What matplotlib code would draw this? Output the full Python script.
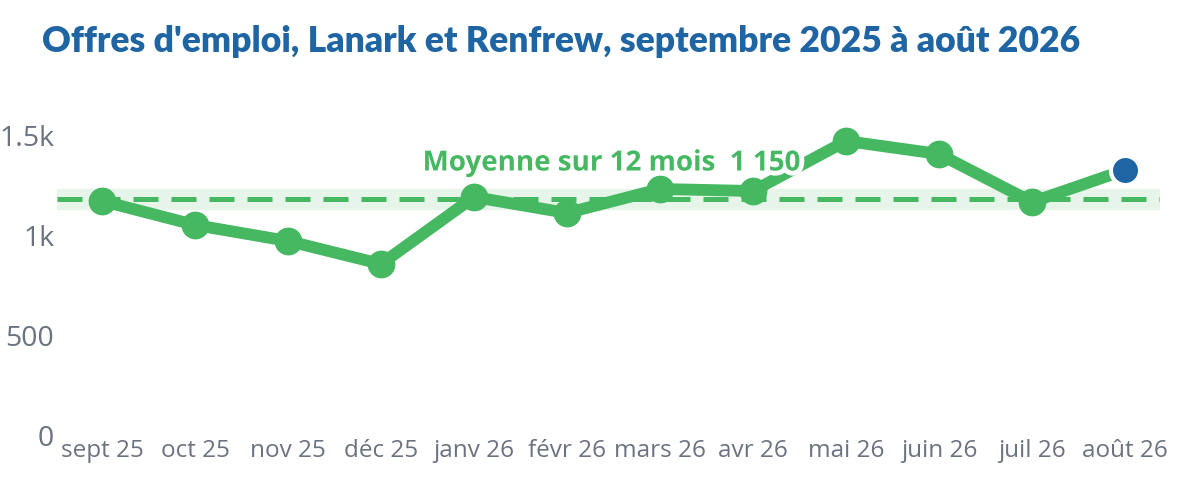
import numpy as np
import matplotlib.pyplot as plt
import matplotlib.patheffects as pe

# data
months = ['sept 25', 'oct 25', 'nov 25', 'déc 25', 'janv 26', 'févr 26',
          'mars 26', 'avr 26', 'mai 26', 'juin 26', 'juil 26', 'août 26']
offres = [1170, 1050, 970, 855, 1190, 1110, 1230, 1220, 1470, 1405, 1165, 1325]
moyenne = np.mean(offres)
bande = 50
yticks = [0, 500, 1000, 1500]
ylabels = ['0', '500', '1k', '1.5k']

green = '#45b861'
blue = '#1f65a3'
gray = '#6b7280'

fig = plt.figure(figsize=(11.8, 4.99), dpi=100)
ax = fig.add_axes([57 / 1180, 1 - 435 / 499, (1160 - 57) / 1180, 350 / 499])

x = np.arange(len(months))
ax.axhspan(moyenne - bande, moyenne + bande, color='#e6f4ea', zorder=1)
ax.axhline(moyenne, color=green, lw=3.6, dashes=(5, 2.6), zorder=2)

ax.plot(x[:-1], offres[:-1], color=green, lw=8.5, marker='o', ms=19,
        solid_joinstyle='round', zorder=3)
ax.plot(x[-2:], offres[-2:], color=green, lw=8.5, zorder=3)
ax.plot(x[-1], offres[-1], 'o', color=blue, ms=21, mec='white', mew=3, zorder=5)

ax.text(5.48, 1360, 'Moyenne sur 12 mois  1 150', color=green, fontsize=20,
        fontweight='bold', family='Open Sans', ha='center', va='center', zorder=6,
        path_effects=[pe.withStroke(linewidth=7, foreground='white')])

ax.set_xlim(-0.484, 11.376)
ax.set_ylim(0, 1750)
ax.set_xticks(x)
ax.set_xticklabels(months)
ax.set_yticks(yticks)
ax.set_yticklabels(ylabels)
ax.tick_params(length=0, colors=gray)
ax.tick_params(axis='y', labelsize=20.5, pad=2)
ax.tick_params(axis='x', labelsize=17.5, pad=3)
for lab in ax.get_xticklabels() + ax.get_yticklabels():
    lab.set_family('Open Sans')
for s in ax.spines.values():
    s.set_visible(False)

fig.text(42 / 1180, 1 - 41 / 499, "Offres d'emploi, Lanark et Renfrew, septembre 2025 à août 2026",
         color=blue, fontsize=25.6, fontweight='heavy', family='Lato', va='center', ha='left')

fig.savefig('out.png', dpi=100, facecolor='white')
